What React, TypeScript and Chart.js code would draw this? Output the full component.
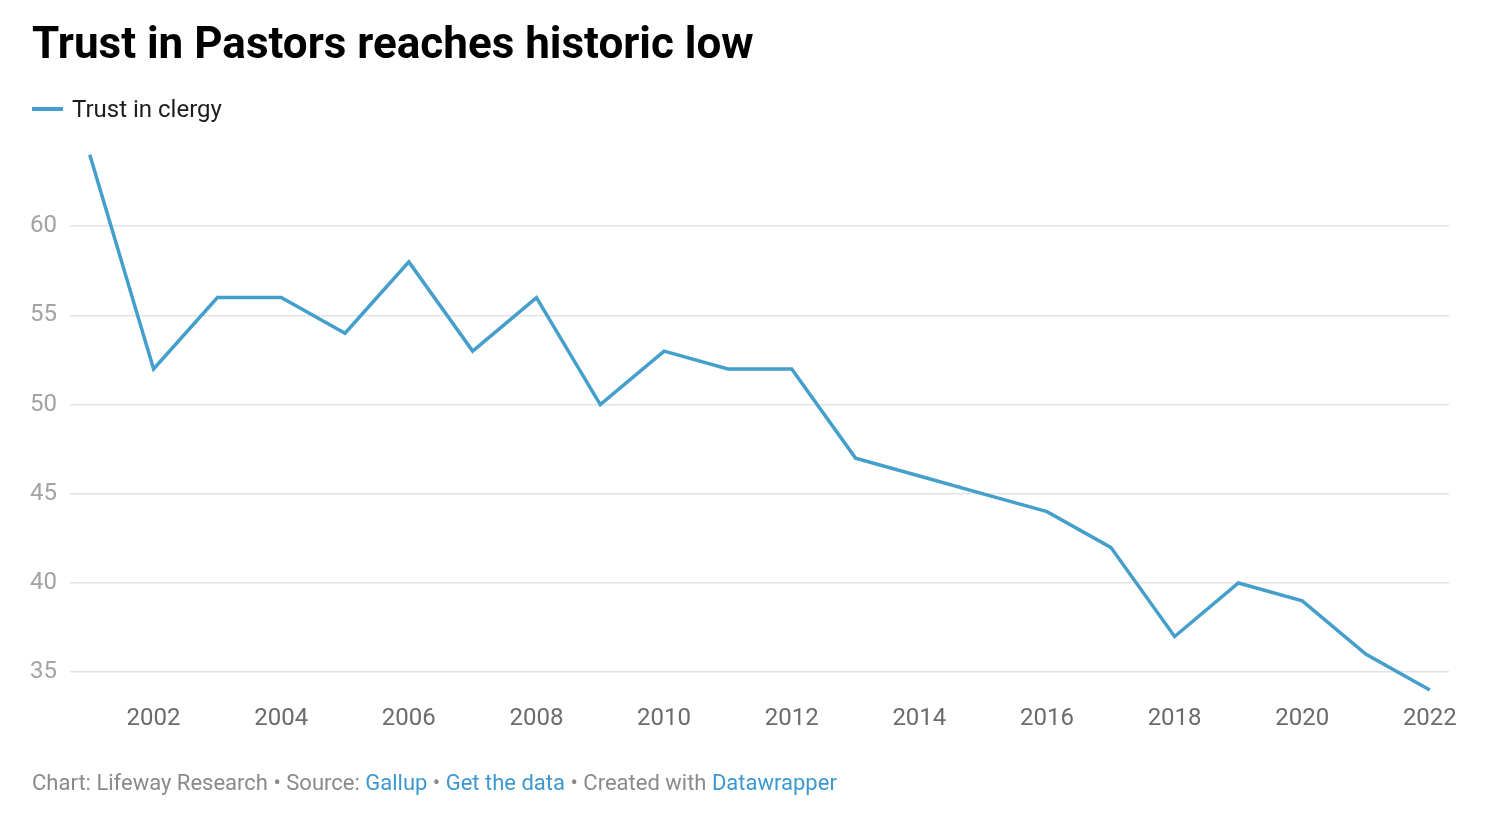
import React, { useEffect, useRef } from "react";
import { Chart, registerables } from "chart.js";

Chart.register(...registerables);

const years = [2001, 2002, 2003, 2004, 2005, 2006, 2007, 2008, 2009, 2010, 2011, 2012, 2013, 2014, 2015, 2016, 2017, 2018, 2019, 2020, 2021, 2022];
const trustInClergy = [64, 52, 56, 56, 54, 58, 53, 56, 50, 53, 52, 52, 47, 46, 45, 44, 42, 37, 40, 39, 36, 34];
const xTicks = [2002, 2004, 2006, 2008, 2010, 2012, 2014, 2016, 2018, 2020, 2022];
const yTicks = [35, 40, 45, 50, 55, 60];

const title = "Trust in Pastors reaches historic low";
const seriesName = "Trust in clergy";

const LINE = "#459fcb";
const FONT = "Roboto, 'Noto Sans', sans-serif";

export default function App() {
  const ref = useRef<HTMLCanvasElement | null>(null);

  useEffect(() => {
    if (!ref.current) return;
    const chart = new Chart(ref.current, {
      type: "line",
      data: {
        datasets: [
          {
            label: seriesName,
            data: years.map((y, i) => ({ x: y, y: trustInClergy[i] })),
            borderColor: LINE,
            backgroundColor: LINE,
            borderWidth: 3.5,
            pointRadius: 0,
            tension: 0,
            clip: false as any,
          },
        ],
      },
      options: {
        animation: false,
        responsive: false,
        maintainAspectRatio: false,
        layout: { padding: { top: 137, right: 36, bottom: 81, left: 0 } },
        plugins: { legend: { display: false }, tooltip: { enabled: false } },
        scales: {
          x: {
            type: "linear",
            min: 2000.69,
            max: 2022.3,
            grid: { display: false, drawTicks: false },
            border: { display: false },
            afterBuildTicks: (s: any) => {
              s.ticks = xTicks.map((v) => ({ value: v }));
            },
            afterFit: (s: any) => {
              s.height = 40;
            },
            ticks: {
              padding: 6,
              color: "#6b6b6b",
              font: { family: FONT, size: 24 },
              maxRotation: 0,
              autoSkip: false,
              callback: (v: any) => String(v),
            },
          },
          y: {
            type: "linear",
            min: 33.5,
            max: 65,
            grid: { color: "#e3e3e3", lineWidth: 1.5, drawTicks: false },
            border: { display: false },
            afterBuildTicks: (s: any) => {
              s.ticks = yTicks.map((v) => ({ value: v }));
            },
            afterFit: (s: any) => {
              s.width = 70;
            },
            ticks: {
              padding: 13,
              color: "#a3a3a3",
              font: { family: FONT, size: 24 },
              callback: (v: any) => String(v),
            },
          },
        },
      },
    });
    return () => chart.destroy();
  }, []);

  return (
    <div style={{ position: "absolute", left: 0, top: 0, width: 1485, height: 820, background: "#fff", fontFamily: FONT }}>
      <canvas ref={ref} width={1485} height={820} style={{ position: "absolute", left: 0, top: 0, width: 1485, height: 820 }} />
      <div style={{ position: "absolute", left: 32, top: 16, fontSize: 44, fontWeight: 700, color: "#000", lineHeight: "54px", whiteSpace: "nowrap" }}>
        {title}
      </div>
      <div style={{ position: "absolute", left: 32, top: 94, height: 30, display: "flex", alignItems: "center", whiteSpace: "nowrap" }}>
        <span style={{ display: "inline-block", width: 31, height: 3.5, background: LINE, marginRight: 9 }} />
        <span style={{ fontSize: 24, color: "#1d1d1d" }}>{seriesName}</span>
      </div>
      <div style={{ position: "absolute", left: 32, top: 768, fontSize: 22, color: "#8a8a8a", whiteSpace: "nowrap", lineHeight: "30px" }}>
        Chart: Lifeway Research • Source: <span style={{ color: "#3d98cf" }}>Gallup</span> • <span style={{ color: "#3d98cf" }}>Get the data</span> • Created with <span style={{ color: "#3d98cf" }}>Datawrapper</span>
      </div>
    </div>
  );
}
